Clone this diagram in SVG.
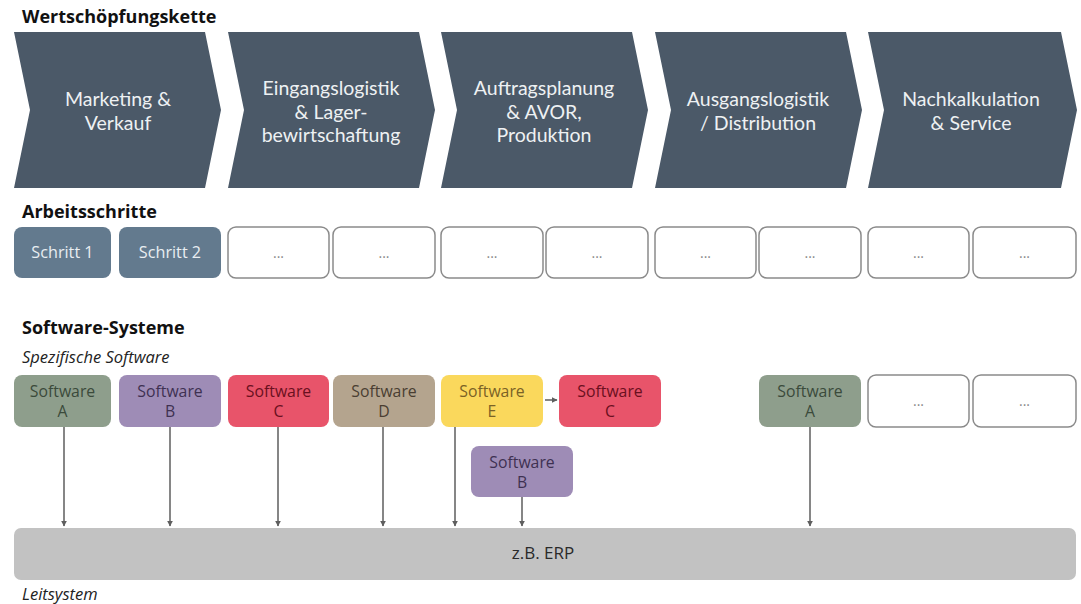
<svg xmlns="http://www.w3.org/2000/svg" width="1081" height="604" viewBox="0 0 1081 604">
  <style>
    .h { font-family: "Open Sans", "Noto Sans", sans-serif; font-weight: bold; font-size: 18px; fill: #111; }
    .sub { font-family: "Open Sans", "Noto Sans", sans-serif; font-style: italic; font-size: 16.5px; fill: #222; }
    .chev { fill: #4b5968; }
    .chevt { font-family: Lato, "Open Sans", sans-serif; font-size: 19.5px; fill: #eef1f3; text-anchor: middle; }
    .step { fill: #637a8e; }
    .stept { font-family: "Open Sans", "Noto Sans", sans-serif; font-size: 16.2px; fill: #e9eef2; text-anchor: middle; }
    .empty { fill: #ffffff; stroke: #8a8a8a; stroke-width: 1.5; }
    .dots { font-family: "Open Sans", "Noto Sans", sans-serif; font-size: 14px; fill: #888; text-anchor: middle; }
    .swt { font-family: "Open Sans", "Noto Sans", sans-serif; font-size: 15.8px; text-anchor: middle; }
    .erpt { font-family: "Open Sans", "Noto Sans", sans-serif; font-size: 17px; fill: #2a2a2a; text-anchor: middle; }
    .conn { stroke: #5e5e5e; stroke-width: 1.5; fill: none; marker-end: url(#arr); }
  </style>
  <defs>
    <marker id="arr" viewBox="0 0 10 10" refX="9" refY="5" markerWidth="6" markerHeight="6" markerUnits="userSpaceOnUse" orient="auto">
      <path d="M0,0 L10,5 L0,10 z" fill="#5e5e5e"/>
    </marker>
  </defs>
  <rect width="1081" height="604" fill="#ffffff"/>

  <!-- section headings -->
  <text class="h" x="22" y="23">Wertschöpfungskette</text>
  <text class="h" x="22" y="218">Arbeitsschritte</text>
  <text class="h" x="22" y="334">Software-Systeme</text>
  <text class="sub" x="22" y="363">Spezifische Software</text>
  <text class="sub" x="22" y="600">Leitsystem</text>

  <!-- value chain -->
  <g id="chain-marketing">
    <path class="chev" d="M14,32 H205 L221,110 L205,188 H14 L30,110 Z"/>
    <text class="chevt" x="118" y="106">Marketing &amp;</text>
    <text class="chevt" x="118" y="129.5">Verkauf</text>
  </g>
  <g id="chain-eingang">
    <path class="chev" d="M228,32 H419 L435,110 L419,188 H228 L244,110 Z"/>
    <text class="chevt" x="331" y="95">Eingangslogistik</text>
    <text class="chevt" x="331" y="118.5">&amp; Lager-</text>
    <text class="chevt" x="331" y="142">bewirtschaftung</text>
  </g>
  <g id="chain-auftrag">
    <path class="chev" d="M441,32 H632 L648,110 L632,188 H441 L457,110 Z"/>
    <text class="chevt" x="544" y="95">Auftragsplanung</text>
    <text class="chevt" x="544" y="118.5">&amp; AVOR,</text>
    <text class="chevt" x="544" y="142">Produktion</text>
  </g>
  <g id="chain-ausgang">
    <path class="chev" d="M655,32 H846 L862,110 L846,188 H655 L671,110 Z"/>
    <text class="chevt" x="758" y="106">Ausgangslogistik</text>
    <text class="chevt" x="758" y="129.5">/ Distribution</text>
  </g>
  <g id="chain-nachkalk">
    <path class="chev" d="M868,32 H1061 L1077,110 L1061,188 H868 L884,110 Z"/>
    <text class="chevt" x="971" y="106">Nachkalkulation</text>
    <text class="chevt" x="971" y="129.5">&amp; Service</text>
  </g>

  <!-- work steps -->
  <g id="step-1"><rect class="step" x="14" y="227" width="97" height="51" rx="8"/><text class="stept" x="62.5" y="258">Schritt 1</text></g>
  <g id="step-2"><rect class="step" x="119" y="227" width="102" height="51" rx="8"/><text class="stept" x="170" y="258">Schritt 2</text></g>
  <g id="step-3"><rect class="empty" x="228" y="227" width="101" height="51" rx="8"/><text class="dots" x="278.5" y="258">...</text></g>
  <g id="step-4"><rect class="empty" x="333" y="227" width="102" height="51" rx="8"/><text class="dots" x="384" y="258">...</text></g>
  <g id="step-5"><rect class="empty" x="441" y="227" width="102" height="51" rx="8"/><text class="dots" x="492" y="258">...</text></g>
  <g id="step-6"><rect class="empty" x="546" y="227" width="102" height="51" rx="8"/><text class="dots" x="597" y="258">...</text></g>
  <g id="step-7"><rect class="empty" x="655" y="227" width="101" height="51" rx="8"/><text class="dots" x="705.5" y="258">...</text></g>
  <g id="step-8"><rect class="empty" x="759" y="227" width="102" height="51" rx="8"/><text class="dots" x="810" y="258">...</text></g>
  <g id="step-9"><rect class="empty" x="868" y="227" width="101" height="51" rx="8"/><text class="dots" x="918.5" y="258">...</text></g>
  <g id="step-10"><rect class="empty" x="973" y="227" width="103" height="51" rx="8"/><text class="dots" x="1024.5" y="258">...</text></g>

  <!-- specific software -->
  <g id="sw-a1"><rect x="14" y="375" width="97" height="52" rx="8" fill="#8e9e8c"/>
    <text class="swt" fill="#3b4a3b" x="62.5" y="397">Software</text><text class="swt" fill="#3b4a3b" x="62.5" y="417">A</text></g>
  <g id="sw-b1"><rect x="119" y="375" width="102" height="52" rx="8" fill="#9e8cb6"/>
    <text class="swt" fill="#3e3152" x="170" y="397">Software</text><text class="swt" fill="#3e3152" x="170" y="417">B</text></g>
  <g id="sw-c1"><rect x="228" y="375" width="101" height="52" rx="8" fill="#e8546a"/>
    <text class="swt" fill="#6a1020" x="278.5" y="397">Software</text><text class="swt" fill="#6a1020" x="278.5" y="417">C</text></g>
  <g id="sw-d"><rect x="333" y="375" width="102" height="52" rx="8" fill="#b4a48e"/>
    <text class="swt" fill="#4a3e32" x="384" y="397">Software</text><text class="swt" fill="#4a3e32" x="384" y="417">D</text></g>
  <g id="sw-e"><rect x="441" y="375" width="102" height="52" rx="8" fill="#fad85c"/>
    <text class="swt" fill="#7a6226" x="492" y="397">Software</text><text class="swt" fill="#7a6226" x="492" y="417">E</text></g>
  <g id="sw-c2"><rect x="559" y="375" width="102" height="52" rx="8" fill="#e8546a"/>
    <text class="swt" fill="#6a1020" x="610" y="397">Software</text><text class="swt" fill="#6a1020" x="610" y="417">C</text></g>
  <g id="sw-b2"><rect x="471" y="446" width="102" height="51" rx="8" fill="#9e8cb6"/>
    <text class="swt" fill="#3e3152" x="522" y="468">Software</text><text class="swt" fill="#3e3152" x="522" y="488">B</text></g>
  <g id="sw-a2"><rect x="759" y="375" width="102" height="52" rx="8" fill="#8e9e8c"/>
    <text class="swt" fill="#3b4a3b" x="810" y="397">Software</text><text class="swt" fill="#3b4a3b" x="810" y="417">A</text></g>
  <g id="sw-more1"><rect class="empty" x="868" y="375" width="101" height="52" rx="8"/><text class="dots" x="918.5" y="406">...</text></g>
  <g id="sw-more2"><rect class="empty" x="973" y="375" width="103" height="52" rx="8"/><text class="dots" x="1024.5" y="406">...</text></g>

  <!-- control system -->
  <g id="erp"><rect x="14" y="528" width="1062" height="52" rx="7" fill="#c2c2c2"/>
    <text class="erpt" x="543" y="559">z.B. ERP</text></g>

  <!-- connectors -->
  <g id="connectors">
    <line class="conn" x1="545" y1="400" x2="557" y2="400"/>
    <line class="conn" x1="64" y1="427" x2="64" y2="526"/>
    <line class="conn" x1="170" y1="427" x2="170" y2="526"/>
    <line class="conn" x1="278" y1="427" x2="278" y2="526"/>
    <line class="conn" x1="383" y1="427" x2="383" y2="526"/>
    <line class="conn" x1="455" y1="427" x2="455" y2="526"/>
    <line class="conn" x1="522" y1="497" x2="522" y2="526"/>
    <line class="conn" x1="810" y1="427" x2="810" y2="526"/>
  </g>
</svg>
